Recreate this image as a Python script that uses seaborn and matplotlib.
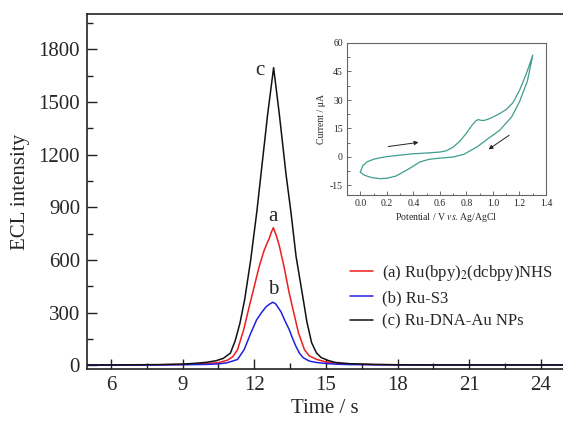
import numpy as np
import pandas as pd
import matplotlib
matplotlib.use("Agg")
import matplotlib.pyplot as plt
import seaborn as sns

# ECL transients (time in s, intensity in a.u.)
t_a = [5.0, 6, 7, 8, 9, 9.5, 10.0, 10.5, 10.88, 11.1, 11.3, 11.55, 11.78, 12.0, 12.2, 12.4, 12.55, 12.62,
       12.72, 12.8, 12.92, 13.05, 13.25, 13.45, 13.62, 13.85, 14.1, 14.3, 14.6, 15.0, 15.5, 16, 17, 18, 20, 22, 24, 25]
v_a = [2, 2, 3, 4, 6, 8, 11, 16, 30, 50, 90, 200, 330, 450, 560, 650, 700, 720,
       760, 784, 740, 680, 560, 420, 320, 186, 90, 55, 35, 20, 12, 8, 5, 4, 3, 3, 3, 3]

t_b = [5.0, 6, 7, 8, 9, 10, 10.5, 10.85, 11.3, 11.58, 11.86, 12.1, 12.3, 12.5, 12.65, 12.78, 12.9, 13.12,
       13.3, 13.46, 13.6, 13.74, 13.9, 14.05, 14.3, 14.6, 15.0, 15.5, 16, 18, 20, 22, 24, 25]
v_b = [2, 2, 2, 3, 4, 6, 9, 15, 34, 91, 186, 260, 300, 335, 350, 360, 350, 305,
       250, 205, 155, 110, 68, 44, 25, 17, 11, 7, 5, 3, 3, 3, 3, 3]

t_c = [5.0, 6, 7, 8, 9, 9.5, 10.0, 10.4, 10.7, 11.0, 11.2, 11.4, 11.6, 11.85, 12.11, 12.28, 12.56, 12.81,
       13.05, 13.33, 13.53, 13.75, 14.05, 14.2, 14.4, 14.6, 14.8, 15.1, 15.4, 16, 17, 18, 20, 22, 24, 25]
v_c = [3, 3, 4, 5, 8, 12, 18, 27, 40, 70, 140, 240, 376, 600, 878, 1087, 1429, 1695,
       1429, 1087, 878, 620, 376, 250, 130, 72, 45, 28, 17, 10, 6, 4, 3, 3, 3, 3]

labels = ["(a) Ru(bpy)$_2$(dcbpy)NHS", "(b) Ru-S3", "(c) Ru-DNA-Au NPs"]
peak_tags = ["a", "b", "c"]

# Cyclic voltammogram (potential in V vs. Ag/AgCl, current in uA)
E_fwd = [0.0, 0.02, 0.05, 0.1, 0.15, 0.2, 0.3, 0.4, 0.5, 0.6, 0.65, 0.7, 0.75, 0.8, 0.84, 0.87, 0.89,
         0.91, 0.93, 0.96, 1.0, 1.05, 1.1, 1.15, 1.2, 1.25, 1.3]
I_fwd = [-7.9, -4.5, -2.6, -1.2, -0.4, 0.2, 1.0, 1.7, 2.1, 2.6, 3.3, 5.2, 8.3, 12.5, 16.5, 19.0, 19.7,
         19.3, 19.2, 19.8, 21.0, 22.8, 25.0, 28.5, 35.0, 43.5, 53.6]
E_rev = [1.3, 1.26, 1.2, 1.14, 1.05, 0.98, 0.88, 0.78, 0.7, 0.6, 0.52, 0.45, 0.37, 0.27, 0.2, 0.15,
         0.09, 0.04, 0.02, 0.0]
I_rev = [53.6, 40.0, 29.0, 21.0, 14.0, 10.5, 5.3, 1.4, 0.0, -0.6, -1.2, -2.6, -6.1, -10.0, -11.2, -11.4,
         -10.9, -9.8, -9.1, -7.9]

sns.set_style("ticks")
plt.rcParams["font.family"] = ["Liberation Serif", "DejaVu Serif"]
plt.rcParams["mathtext.fontset"] = "stix"
plt.rcParams["axes.unicode_minus"] = False

fig = plt.figure(figsize=(5.63, 4.23), dpi=100)
ax = fig.add_axes([0.1545, 0.1277, 0.8455, 0.839])

colors = ["#ee1c1c", "#2020e0", "#111111"]
for t, v, lab, col in zip([t_a, t_b, t_c], [v_a, v_b, v_c], labels, colors):
    df = pd.DataFrame({"t": t, "v": v})
    sns.lineplot(data=df, x="t", y="v", color=col, lw=1.1, label=lab, ax=ax,
                 estimator=None, sort=False)

# peak tags placed at their curve maxima
tag_pos = {"a": (12.8, max(v_a) + 62), "b": (12.8, max(v_b) + 72), "c": (12.25, max(v_c) - 15)}
for tag in peak_tags:
    x, y = tag_pos[tag]
    ax.text(x, y, tag, fontsize=15, ha="center", va="center")

ax.set_xlim(5, 24.92)
ax.set_ylim(-20, 2000)
ax.set_xticks([6, 9, 12, 15, 18, 21, 24])
ax.set_xticks(np.arange(7.5, 24.9, 3), minor=True)
ax.set_yticks(np.arange(0, 1801, 300))
ax.set_yticks(np.arange(150, 1951, 300), minor=True)
ax.tick_params(which="both", direction="in", labelsize=15, width=1.0, color="#222222")
ax.tick_params(which="major", length=7, pad=5)
ax.tick_params(which="minor", length=4)
ax.set_xlabel("Time / s", fontsize=15, labelpad=3)
ax.set_ylabel("ECL intensity", fontsize=15, labelpad=6)
ax.spines["right"].set_visible(False)
for s in ["left", "bottom", "top"]:
    ax.spines[s].set_linewidth(1.2)
    ax.spines[s].set_color("#222222")

ax.legend(loc="center left", bbox_to_anchor=(350 / 563, (423 - 296) / 423),
          bbox_transform=fig.transFigure, frameon=False, fontsize=12,
          handlelength=1.35, handletextpad=0.6, labelspacing=0.45,
          borderpad=0, borderaxespad=0)

# inset: cyclic voltammogram
axi = fig.add_axes([347 / 563, (423 - 195) / 423, 199 / 563, 152 / 423])
cv_col = "#3f9d8d"
cv = pd.DataFrame({"E": E_fwd + E_rev[1:], "I": I_fwd + I_rev[1:]})
sns.lineplot(data=cv, x="E", y="I", color=cv_col, lw=0.9, ax=axi, estimator=None, sort=False)
axi.annotate("", xy=(0.46, 7.9), xytext=(0.19, 5.3),
             arrowprops=dict(arrowstyle="-|>", color="#222222", lw=0.7, mutation_scale=6))
axi.annotate("", xy=(0.95, 3.2), xytext=(1.14, 12.3),
             arrowprops=dict(arrowstyle="-|>", color="#222222", lw=0.7, mutation_scale=6))
axi.set_xlim(-0.1, 1.4)
axi.set_ylim(-20, 60)
axi.set_xticks(np.arange(0, 1.41, 0.2))
axi.set_xticks(np.arange(0.1, 1.4, 0.2), minor=True)
axi.set_yticks(np.arange(-15, 61, 15))
axi.set_yticks(np.arange(-7.5, 60, 15), minor=True)
axi.xaxis.set_major_formatter(matplotlib.ticker.FormatStrFormatter("%.1f"))
axi.tick_params(which="both", direction="in", labelsize=7, width=0.6, color="#555555")
axi.tick_params(which="major", length=3, pad=3)
axi.tick_params(which="minor", length=1.8)
axi.set_xlabel("Potential / V $\\it{vs.}\\,$Ag/AgCl", fontsize=7, labelpad=2)
axi.set_ylabel("Current / μA", fontsize=7, labelpad=3)
for s in axi.spines.values():
    s.set_linewidth(0.8)
    s.set_color("#666666")

fig.savefig("out.png", dpi=100)
